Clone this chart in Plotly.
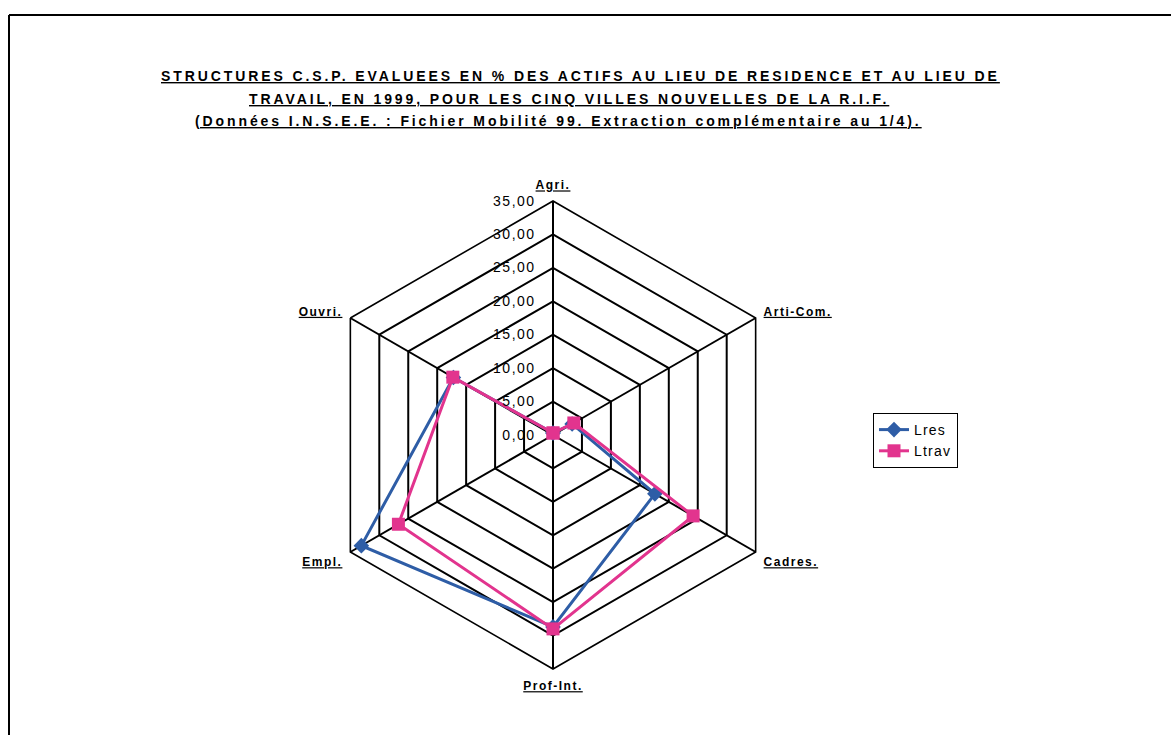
import plotly.graph_objects as go

# --- data ---
categories = ["Agri.", "Arti-Com.", "Cadres.", "Prof-Int.", "Empl.", "Ouvri."]
lres = [0.3, 3.3, 17.6, 28.7, 33.1, 17.2]
ltrav = [0.3, 3.6, 24.2, 29.0, 26.7, 17.3]
radial_ticks = [0, 5, 10, 15, 20, 25, 30, 35]

title_lines = [
    "STRUCTURES C.S.P. EVALUEES EN % DES ACTIFS AU LIEU DE RESIDENCE ET AU LIEU DE",
    "TRAVAIL, EN 1999, POUR LES CINQ VILLES NOUVELLES DE LA R.I.F.",
    "(Données I.N.S.E.E. : Fichier Mobilité 99. Extraction complémentaire au 1/4).",
]

W, H = 1171, 735
FONT = "Liberation Sans"


def spaced(txt, px):
    return f'<span style="letter-spacing:{px}px">{txt}</span>'


def closed(vals):
    return list(vals) + [vals[0]]


theta = closed(categories)

fig = go.Figure()
fig.add_trace(go.Scatterpolar(
    r=closed(lres), theta=theta, name=spaced("Lres", 1.2), mode="lines+markers",
    line=dict(color="#2E5DA6", width=3),
    marker=dict(symbol="diamond", size=12, color="#2E5DA6"),
))
fig.add_trace(go.Scatterpolar(
    r=closed(ltrav), theta=theta, name=spaced("Ltrav", 1.2), mode="lines+markers",
    line=dict(color="#E2348E", width=3),
    marker=dict(symbol="square", size=13, color="#E2348E"),
))

# --- polar layout: centre (553, 435), radius 234 px ---
cx, cy, rad = 553, 435, 234
fig.update_layout(
    width=W, height=H,
    margin=dict(l=0, r=0, t=0, b=0),
    paper_bgcolor="white",
    separators=", ",
    showlegend=True,
    polar=dict(
        domain=dict(x=[(cx - rad) / W, (cx + rad) / W],
                    y=[(H - cy - rad) / H, (H - cy + rad) / H]),
        gridshape="linear",
        bgcolor="white",
        radialaxis=dict(
            range=[0, 35], tickvals=radial_ticks,
            ticktext=[spaced(f"{v:.2f}".replace(".", ","), 1.5) for v in radial_ticks],
            angle=90, side="counterclockwise", tickangle=90,
            showline=False, gridcolor="black", gridwidth=1.6,
            ticks="outside", ticklen=12, tickcolor="rgba(0,0,0,0)",
            tickfont=dict(family=FONT, size=14, color="black"),
        ),
        angularaxis=dict(
            direction="clockwise", rotation=90,
            categoryarray=categories, categoryorder="array",
            tickvals=categories,
            ticktext=[f"<b><u>{spaced(c, 1.5)}</u></b>" for c in categories],
            showline=True, linecolor="black", linewidth=1.6,
            gridcolor="black", gridwidth=1.6,
            ticks="outside", ticklen=6, tickcolor="rgba(0,0,0,0)",
            tickfont=dict(family=FONT, size=12, color="black"),
        ),
    ),
    legend=dict(
        x=873 / W, y=1 - 413 / H, xanchor="left", yanchor="top",
        bordercolor="black", borderwidth=1, bgcolor="white",
        font=dict(family=FONT, size=14, color="black"),
        itemwidth=30, tracegroupgap=0,
    ),
)

# --- title ---
title_y = [76, 99, 121]
title_x = [580, 569, 558]
for txt, ty, tx in zip(title_lines, title_y, title_x):
    fig.add_annotation(
        text=f"<b><u>{spaced(txt, 2.9)}</u></b>", x=tx / W, y=1 - ty / H,
        xref="paper", yref="paper", showarrow=False,
        xanchor="center", yanchor="middle",
        font=dict(family=FONT, size=14, color="black"),
    )

# --- frame ---
fig.add_shape(type="line", xref="paper", yref="paper",
              x0=9 / W, x1=1, y0=1 - 15 / H, y1=1 - 15 / H,
              line=dict(color="black", width=2))
fig.add_shape(type="line", xref="paper", yref="paper",
              x0=9 / W, x1=9 / W, y0=0, y1=1 - 15 / H,
              line=dict(color="black", width=2))

fig.write_html("out.html", config={"displayModeBar": False},
               post_script="document.body.style.margin='0';")
